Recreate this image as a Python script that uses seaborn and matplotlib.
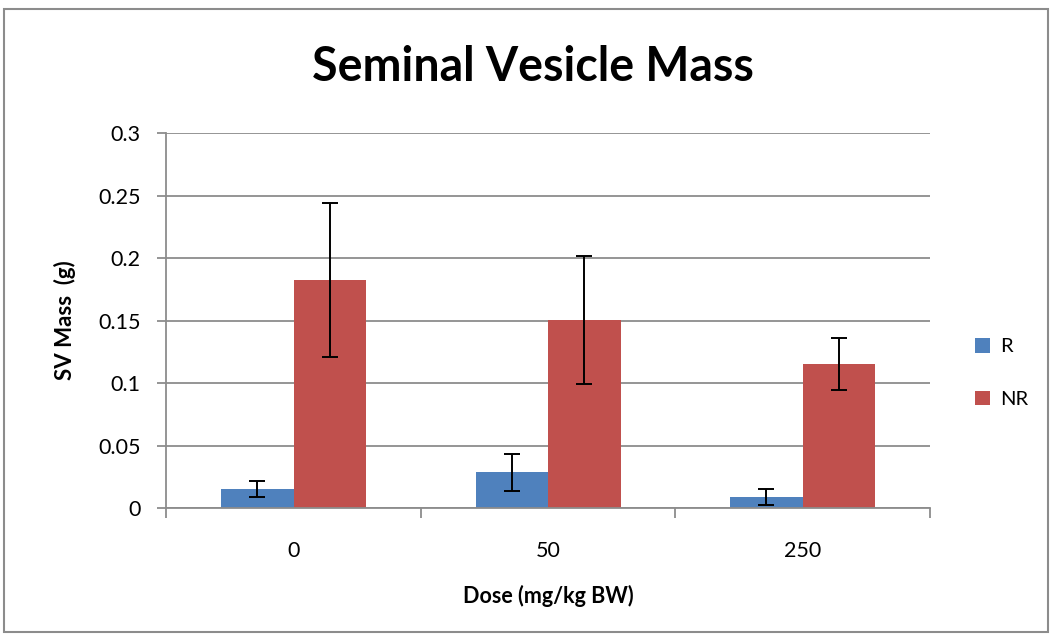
import pandas as pd
import matplotlib.pyplot as plt
import seaborn as sns
from matplotlib.patches import Rectangle

# values
doses = ['0', '50', '250']
groups = ['R', 'NR']
r_mass = [0.0150, 0.0285, 0.0090]
nr_mass = [0.1824, 0.1504, 0.1152]
r_err = [0.0064, 0.0150, 0.0063]
nr_err = [0.0618, 0.0515, 0.0205]

sheet = pd.DataFrame({
    'dose': doses * 2,
    'group': ['R'] * 3 + ['NR'] * 3,
    'mass': r_mass + nr_mass,
})
errs = {'R': r_err, 'NR': nr_err}

sns.set_style('white')
plt.rcParams['font.family'] = ['Lato', 'DejaVu Sans']
plt.rcParams['text.color'] = 'black'
plt.rcParams['xtick.color'] = 'black'
plt.rcParams['ytick.color'] = 'black'
plt.rcParams['axes.labelcolor'] = 'black'

fig = plt.figure(figsize=(10.52, 6.37), dpi=100)
ax = fig.add_axes([0.158, 0.2025, 0.726, 0.5885])

sns.barplot(data=sheet, x='dose', y='mass', hue='group', order=doses, hue_order=groups,
            palette=['#4F81BD', '#C0504D'], width=0.57, gap=0, errorbar=None,
            saturation=1, linewidth=0, ax=ax, zorder=2)

# error bars on top of the bars
for cont, g in zip(ax.containers, groups):
    xs = [b.get_x() + b.get_width() / 2 for b in cont]
    hs = [b.get_height() for b in cont]
    ax.errorbar(xs, hs, yerr=errs[g], fmt='none', ecolor='black', elinewidth=1.4,
                capsize=5.5, capthick=1.4, zorder=3)

ax.set_ylim(0, 0.3)
ax.set_xlim(-0.5, 2.5)
ax.set_yticks([0, 0.05, 0.1, 0.15, 0.2, 0.25, 0.3])
ax.set_yticklabels(['0', '0.05', '0.1', '0.15', '0.2', '0.25', '0.3'])
ax.yaxis.grid(True, color='#8c8c8c', linewidth=1.3, zorder=0)
ax.set_axisbelow(True)
for s in ['top', 'right']:
    ax.spines[s].set_visible(False)
for s in ['left', 'bottom']:
    ax.spines[s].set_color('#8c8c8c')
    ax.spines[s].set_linewidth(1.3)

ax.tick_params(axis='y', which='major', length=6.5, color='#8c8c8c', width=1.3,
               labelsize=15.5, pad=12, left=True)
ax.tick_params(axis='x', which='major', length=0, labelsize=15.5, pad=24)
ax.set_xticks([-0.5, 0.5, 1.5, 2.5], minor=True)
ax.tick_params(axis='x', which='minor', length=7, color='#8c8c8c', width=1.3, bottom=True)

ax.set_xlabel('Dose (mg/kg BW)', fontsize=15.5, fontweight='bold', labelpad=17)
ax.set_ylabel('SV Mass  (g)', fontsize=16, fontweight='bold', labelpad=16)
fig.suptitle('Seminal Vesicle Mass', fontsize=33.5, fontweight='bold', x=0.507, y=0.93)

ax.legend(title=None, frameon=False, loc='center left', bbox_to_anchor=(1.035, 0.36),
          fontsize=14.5, handlelength=0.75, handleheight=0.75, labelspacing=1.75,
          handletextpad=0.5)

# outer chart border
fig.patches.append(Rectangle((0.004, 0.008), 0.992, 0.978, transform=fig.transFigure,
                             fill=False, edgecolor='#8c8c8c', linewidth=1.5))

fig.savefig('out.png', dpi=100)
